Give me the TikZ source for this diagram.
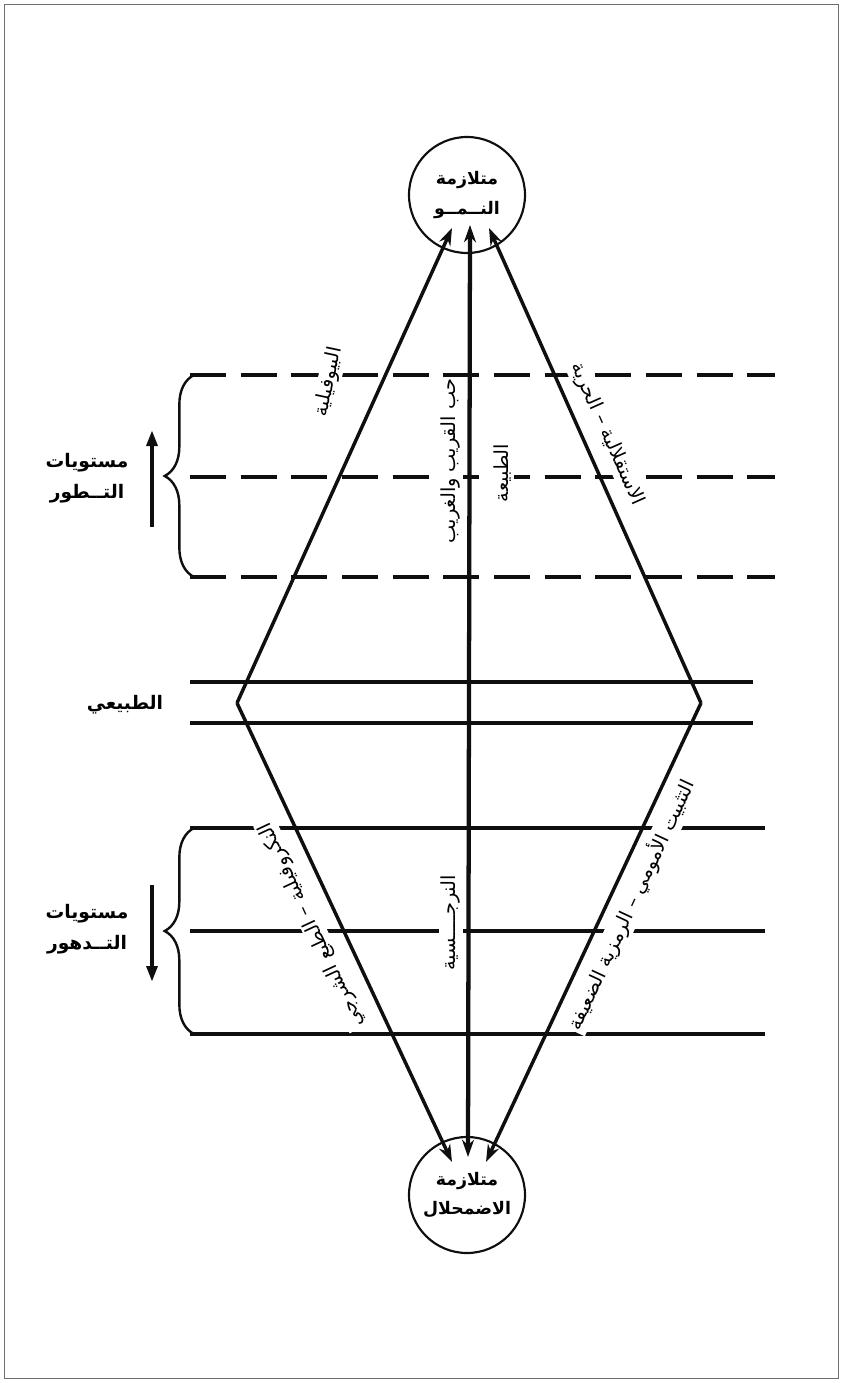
\documentclass[tikz,border=0pt]{standalone}
\usepackage{fontspec}
\usepackage{xcolor}
\usetikzlibrary{decorations.pathreplacing,arrows.meta,calc}
\newfontfamily\arabicfont[Script=Arabic]{DejaVu Sans}
\TeXXeTstate=1
\definecolor{InkBlack}{RGB}{15,15,15}
\definecolor{FrameGray}{RGB}{110,110,110}

\begin{document}
\begin{tikzpicture}[x=0.75pt,y=-0.75pt,
  syndrome/.style={circle,draw=InkBlack,line width=1.6pt,minimum size=87pt,inner sep=0pt,align=center,font=\arabicfont\bfseries\fontsize{13}{22}\selectfont},
  sidelabel/.style={align=center,font=\arabicfont\bfseries\fontsize{14}{23}\selectfont},
  pathlabel/.style={font=\arabicfont\fontsize{14.5}{16}\selectfont,fill=white,inner sep=1.5pt},
  level/.style={line width=2.3pt,InkBlack},
  dashedlevel/.style={level,dash pattern=on 27pt off 11pt},
  edge/.style={line width=2.6pt,InkBlack,-{Stealth[length=13pt,width=9pt]}},
  mainaxis/.style={line width=3.2pt,InkBlack,{Stealth[length=13pt,width=9pt]}-{Stealth[length=13pt,width=9pt]}},
  levelbrace/.style={decorate,decoration={brace,amplitude=22pt},line width=1.8pt,InkBlack},
  trend/.style={line width=3pt,InkBlack,-{Triangle[length=12pt,width=8pt]}}
]
\useasboundingbox (0,0) rectangle (842,1383);
\draw[FrameGray,line width=0.6pt] (4,4) rectangle (838,1378);

% levels
\foreach \y in {375,477,577}
  \draw[dashedlevel] (190,\y) -- (775,\y);
\foreach \y in {682,723}
  \draw[level] (190,\y) -- (753,\y);
\foreach \y in {828,931,1034}
  \draw[level] (190,\y) -- (765,\y);

\draw[levelbrace] (194,577) -- (194,375);
\draw[levelbrace] (194,1034) -- (194,828);
\draw[trend] (152,527) -- (152,430);
\draw[trend] (152,885) -- (152,982);

\node[sidelabel] (uplevels) at (87,478) {\beginR مستويات\endR\\\beginR التــطور\endR};
\node[sidelabel] (natural) at (125,705) {\beginR الطبيعي\endR};
\node[sidelabel] (downlevels) at (87,929) {\beginR مستويات\endR\\\beginR التــدهور\endR};

% syndromes
\node[syndrome] (growth) at (467,195) {\beginR متلازمة\endR\\\beginR النــمــو\endR};
\node[syndrome] (decay) at (467,1195) {\beginR متلازمة\endR\\\beginR الاضمحلال\endR};

\coordinate (lv) at (237,703);
\coordinate (rv) at (701,703);
\coordinate (gl) at ($(growth.center)+(-15,33)$);
\coordinate (gm) at ($(growth.center)+(3,30)$);
\coordinate (gr) at ($(growth.center)+(22,33)$);
\coordinate (dl) at ($(decay.center)+(-15,-33)$);
\coordinate (dm) at ($(decay.center)+(1,-38)$);
\coordinate (dr) at ($(decay.center)+(19,-33)$);

% labels along the paths
\node[pathlabel,rotate=78] (biophilia) at (329,382) {\beginR البيوفيلية\endR};
\node[pathlabel,rotate=90] (neighbour) at (451,461) {\beginR حب القريب والغريب\endR};
\node[pathlabel,rotate=90] (nature) at (503,473) {\beginR الطبيعة\endR};
\node[pathlabel,rotate=-66] (freedom) at (607,434) {\beginR الاستقلالية – الحرية\endR};
\node[pathlabel,rotate=115] (necrophilia) at (312,925) {\beginR النكروفيلية – الطبع الشرجي\endR};
\node[pathlabel,rotate=90] (narcissism) at (451,923) {\beginR النرجــــسية\endR};
\node[pathlabel,rotate=65] (fixation) at (631,905) {\beginR التثبيت الأمومي – الرمزية الضعيفة\endR};

\draw[edge] (lv) -- (gl);
\draw[edge] (rv) -- (gr);
\draw[edge] (lv) -- (dl);
\draw[edge] (rv) -- (dr);
\draw[mainaxis] (dm) -- (gm);
\end{tikzpicture}
\end{document}
